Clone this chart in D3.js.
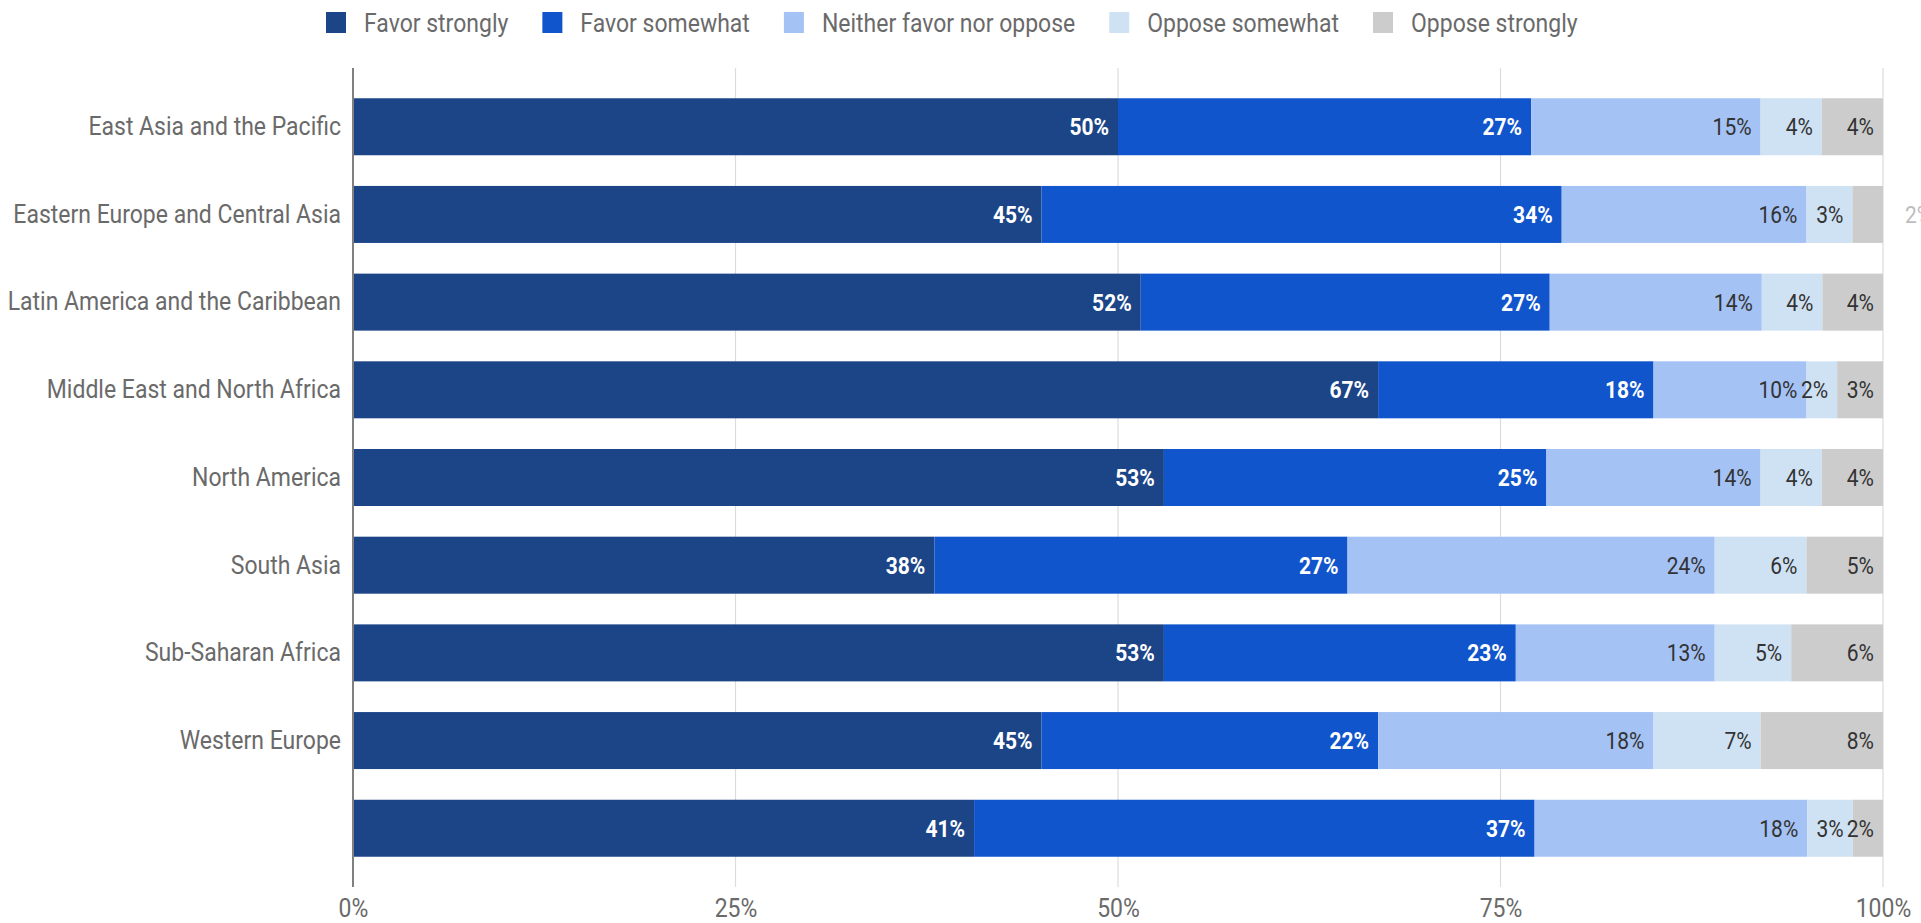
<!DOCTYPE html>
<html>
<head>
<meta charset="utf-8">
<script src="https://cdn.jsdelivr.net/npm/d3@7"></script>
<style>
  html, body { margin: 0; padding: 0; background: #fff; overflow: hidden; }
  svg { display: block; font-family: Roboto, "Noto Sans", sans-serif; }
  /* slightly tall lettering */
  svg text { transform-box: fill-box; transform-origin: center; transform: scaleY(1.12); }
</style>
</head>
<body>
<svg id="chart" width="1921" height="923"></svg>
<script>
// Regions (the last row has no label)
const regions = [
  "East Asia and the Pacific",
  "Eastern Europe and Central Asia",
  "Latin America and the Caribbean",
  "Middle East and North Africa",
  "North America",
  "South Asia",
  "Sub-Saharan Africa",
  "Western Europe",
  ""
];

const responses = ["Favor strongly", "Favor somewhat", "Neither favor nor oppose", "Oppose somewhat", "Oppose strongly"];

// Percent of respondents per region, one array per response
const favorStrongly   = [50, 45, 52, 67, 53, 38, 53, 45, 41];
const favorSomewhat   = [27, 34, 27, 18, 25, 27, 23, 22, 37];
const neither         = [15, 16, 14, 10, 14, 24, 13, 18, 18];
const opposeSomewhat  = [ 4,  3,  4,  2,  4,  6,  5,  7,  3];
const opposeStrongly  = [ 4,  2,  4,  3,  4,  5,  6,  8,  2];

const xTicks = [0, 0.25, 0.5, 0.75, 1];

// Labels that do not fit in their segment and sit past the bar end
const outsideLabels = [["Eastern Europe and Central Asia", "Oppose strongly"]];

const colors = ["#1c4587", "#1155cc", "#a4c2f4", "#cfe2f3", "#cccccc"];
const labelColors = ["#ffffff", "#ffffff", "#333333", "#333333", "#333333"];
const labelWeights = ["bold", "bold", "normal", "normal", "normal"];

const seriesValues = [favorStrongly, favorSomewhat, neither, opposeSomewhat, opposeStrongly];
const table = regions.map((r, i) => {
  const row = { region: r };
  responses.forEach((k, j) => { row[k] = seriesValues[j][i]; });
  return row;
});

const stacked = d3.stack()
  .keys(responses)
  .offset(d3.stackOffsetExpand)(table);

const svg = d3.select("#chart");
const plot = { left: 353, right: 1883, top: 68, bottom: 887 };

const x = d3.scaleLinear().domain([0, 1]).range([plot.left, plot.right]);
const y = d3.scaleBand().domain(regions).range([plot.top, plot.bottom])
  .paddingInner(0.35).paddingOuter(0.345);
const color = d3.scaleOrdinal().domain(responses).range(colors);

// Vertical gridlines
svg.append("g")
  .selectAll("line")
  .data(xTicks.slice(1))
  .join("line")
  .attr("x1", d => x(d)).attr("x2", d => x(d))
  .attr("y1", plot.top).attr("y2", plot.bottom)
  .attr("stroke", "#dcdcdc").attr("stroke-width", 1.2);

// Stacked bars
const layers = svg.append("g")
  .selectAll("g")
  .data(stacked)
  .join("g")
  .attr("fill", d => color(d.key));

layers.selectAll("rect")
  .data(d => d)
  .join("rect")
  .attr("x", d => x(d[0]))
  .attr("y", d => y(d.data.region))
  .attr("width", d => x(d[1]) - x(d[0]))
  .attr("height", y.bandwidth());

// Value labels, right-aligned inside each segment
const isOutside = (region, key) => outsideLabels.some(o => o[0] === region && o[1] === key);
stacked.forEach((layer, j) => {
  svg.append("g")
    .selectAll("text")
    .data(layer)
    .join("text")
    .attr("x", d => isOutside(d.data.region, layer.key) ? x(1) + 22 : x(d[1]) - 9)
    .attr("y", d => y(d.data.region) + y.bandwidth() / 2)
    .attr("dy", "0.36em")
    .attr("text-anchor", d => isOutside(d.data.region, layer.key) ? "start" : "end")
    .attr("font-size", 21)
    .attr("font-weight", labelWeights[j])
    .attr("fill", d => isOutside(d.data.region, layer.key) ? "#bdbdbd" : labelColors[j])
    .text(d => d.data[layer.key] + "%");
});

// Baseline at 0%
svg.append("line")
  .attr("x1", x(0)).attr("x2", x(0))
  .attr("y1", plot.top).attr("y2", plot.bottom)
  .attr("stroke", "#808080").attr("stroke-width", 2);

// Category axis labels
const yAxis = svg.append("g")
  .attr("transform", `translate(${x(0)},0)`)
  .call(d3.axisLeft(y).tickSize(0).tickPadding(12));
yAxis.select(".domain").remove();
yAxis.selectAll("text")
  .attr("font-size", 23)
  .attr("font-family", "Roboto, sans-serif")
  .attr("fill", "#6a6a6a");

// Percent axis labels
const xAxis = svg.append("g")
  .attr("transform", `translate(0,${plot.bottom})`)
  .call(d3.axisBottom(x).tickValues(xTicks).tickFormat(d3.format(".0%")).tickSize(0).tickPadding(13));
xAxis.select(".domain").remove();
xAxis.selectAll("text")
  .attr("font-size", 23)
  .attr("font-family", "Roboto, sans-serif")
  .attr("fill", "#6a6a6a");

// Legend across the top
const legend = svg.append("g").attr("transform", "translate(326,12)");
let lx = 0;
responses.forEach((k, j) => {
  const item = legend.append("g").attr("transform", `translate(${lx},0)`);
  item.append("rect")
    .attr("width", 20).attr("height", 21)
    .attr("fill", colors[j]);
  const t = item.append("text")
    .attr("x", 38).attr("y", 10.5).attr("dy", "0.36em")
    .attr("font-size", 23)
    .attr("fill", "#6a6a6a")
    .text(k);
  lx += 38 + t.node().getComputedTextLength() + 34;
});
</script>
</body>
</html>
